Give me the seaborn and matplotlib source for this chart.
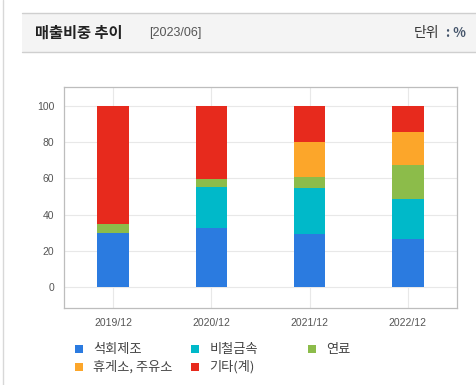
import matplotlib
matplotlib.use("Agg")
import matplotlib.pyplot as plt
from matplotlib.patches import Rectangle
from matplotlib.lines import Line2D
import numpy as np
import pandas as pd
import seaborn as sns

# data (percent share of sales)
years = ["2019/12", "2020/12", "2021/12", "2022/12"]
series_names = ["석회제조", "비철금속", "연료", "휴게소, 주유소", "기타(계)"]
lime = [29.8, 32.6, 29.1, 26.3]
nonferrous = [0.0, 22.6, 25.8, 22.1]
fuel = [4.8, 4.3, 5.9, 19.2]
station = [0.0, 0.0, 19.3, 18.2]
etc = [65.4, 40.5, 19.9, 14.2]
yticks = [0, 20, 40, 60, 80, 100]
colors = ["#2b7be0", "#00b9c9", "#8cbc4a", "#fca62a", "#e72a1d"]

sns.set_style("white")
plt.rcParams["font.family"] = ["Noto Sans CJK KR", "DejaVu Sans"]

W, H = 477, 385
fig = plt.figure(figsize=(W / 100, H / 100), dpi=100)

def fx(px):
    return px / W

def fy(py):
    return 1 - py / H

# frame / header decorations
fig.add_artist(Line2D([fx(3.5), fx(3.5)], [0, 1], color="#d8d8d8", lw=1))
fig.add_artist(Rectangle((fx(22), fy(52)), 1 - fx(22), fy(13) - fy(52),
                         facecolor="#f4f4f4", edgecolor="none"))
fig.add_artist(Line2D([fx(22), 1], [fy(13), fy(13)], color="#cfcfcf", lw=1))
fig.add_artist(Line2D([fx(22), 1], [fy(52), fy(52)], color="#cfcfcf", lw=1))
fig.text(fx(35), fy(33), "매출비중 추이", fontsize=11, fontweight="bold",
         color="#222222", va="center", ha="left")
fig.text(fx(149), fy(33), "[2023/06]", fontsize=9, color="#555555",
         va="center", ha="left", family=["Liberation Sans", "DejaVu Sans"])
fig.text(fx(414), fy(33), "단위", fontsize=10, color="#333333",
         va="center", ha="left")
fig.text(fx(446), fy(33), ": %", fontsize=9.5, fontweight="bold",
         color="#44546a", va="center", ha="left")

ax = fig.add_axes([fx(64), fy(308), fx(457) - fx(64), fy(87) - fy(308)])

df = pd.DataFrame({"year": years, series_names[0]: lime, series_names[1]: nonferrous,
                   series_names[2]: fuel, series_names[3]: station, series_names[4]: etc})
cum = df[series_names].cumsum(axis=1)

# stacked bars by overlaying cumulative totals, top series first
for name, col in reversed(list(zip(series_names, colors))):
    sns.barplot(x=df["year"], y=cum[name], color=col, width=0.32,
                saturation=1, ax=ax, zorder=3, linewidth=0)

ax.set_xlim(-0.5, 3.5)
ax.set_ylim(-11.6, 110.5)
ax.set_yticks(yticks)
ax.set_xlabel("")
ax.set_ylabel("")
ax.grid(True, color="#e8e8e8", lw=0.8, zorder=0)
ax.set_axisbelow(True)
for s in ax.spines.values():
    s.set_color("#bdbdbd")
    s.set_linewidth(0.9)
ax.tick_params(axis="both", length=4, width=0.8, color="#c8c8c8",
               labelsize=7.5, labelcolor="#555555", direction="out", pad=3)
for lab in ax.get_xticklabels() + ax.get_yticklabels():
    lab.set_family(["Liberation Sans", "DejaVu Sans"])

# legend, 3 columns row-major
for i, (name, col) in enumerate(zip(series_names, colors)):
    r, c = divmod(i, 3)
    x0 = 75 + c * 116.5
    y0 = 349 + r * 18
    fig.add_artist(Rectangle((fx(x0), fy(y0 + 4)), fx(8), 8 / H,
                             facecolor=col, edgecolor="none"))
    fig.text(fx(x0 + 18), fy(y0), name, fontsize=9.5, color="#444444",
             va="center", ha="left")

fig.savefig("out.png", dpi=100)
